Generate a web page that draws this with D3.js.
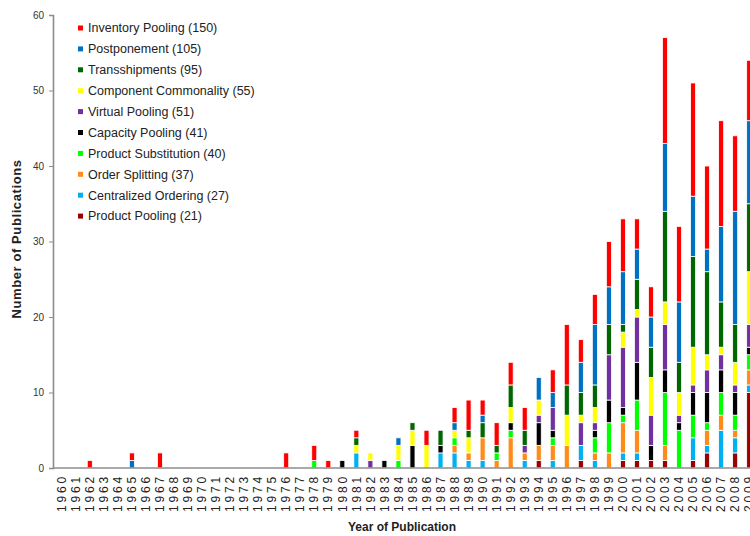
<!DOCTYPE html>
<html lang="en">
<head>
  <meta charset="UTF-8" />
  <script src="https://d3js.org/d3.v7.min.js"></script>
  <title>Publications per year</title>
  <style>
    body { margin: 0; background: #fff; }
    text { font-family: "Liberation Sans", Arial, sans-serif; }
  </style>
</head>
<body>
  <svg width="750" height="536"></svg>

  <script>
    const width = 750;
    const height = 536;

    // years on the x axis
    const years = d3.range(1960, 2010);

    // legend order (top of stack first)
    const categories = [
      "Inventory Pooling", "Postponement", "Transshipments", "Component Commonality",
      "Virtual Pooling", "Capacity Pooling", "Product Substitution", "Order Splitting",
      "Centralized Ordering", "Product Pooling"
    ];
    const totals = [150, 105, 95, 55, 51, 41, 40, 37, 27, 21];
    const colors = ["#ff0000", "#0070c0", "#006600", "#ffff00", "#7030a0",
                    "#000000", "#00ff00", "#ff8c1a", "#00b0f0", "#990000"];

    // values per year 1960..2009, one array per category
    const inventoryPooling = [0,0,1,0,0,1,0,2,0,0, 0,0,0,0,0,0,2,0,2,1, 0,1,0,0,0,0,2,0,2,4, 2,3,3,3,0,3,8,3,4,6, 7,4,4,14,10,15,11,14,10,8];
    const postponement =     [0,0,0,0,0,1,0,0,0,0, 0,0,0,0,0,0,0,0,0,0, 0,0,0,0,1,0,0,0,1,0, 1,0,0,0,3,2,0,4,8,5, 7,4,4,9,8,8,3,10,15,11];
    const transshipments =   [0,0,0,0,0,0,0,0,0,0, 0,0,0,0,0,0,0,0,0,0, 0,1,0,0,0,1,0,2,0,1, 2,1,3,2,0,0,4,3,3,4, 1,4,4,12,4,12,11,6,5,9];
    const componentComm =    [0,0,0,0,0,0,0,0,0,0, 0,0,0,0,0,0,0,0,0,0, 0,1,1,0,2,2,3,0,1,2, 0,0,2,0,2,0,4,1,2,0, 2,1,5,3,3,5,2,1,3,7];
    const virtualPooling =   [0,0,0,0,0,0,0,0,0,0, 0,0,0,0,0,0,0,0,0,0, 0,0,1,0,0,0,0,0,0,0, 0,0,0,1,1,3,0,3,1,6, 8,6,4,6,1,1,3,2,1,3];
    const capacityPooling =  [0,0,0,0,0,0,0,0,0,0, 0,0,0,0,0,0,0,0,0,0, 1,0,0,1,0,3,0,1,0,0, 0,0,1,0,3,1,0,0,1,3, 1,5,2,3,1,3,4,3,3,1];
    const productSubst =     [0,0,0,0,0,0,0,0,0,0, 0,0,0,0,0,0,0,0,1,0, 0,0,0,0,1,0,0,0,1,0, 0,1,1,0,0,1,0,0,2,4, 1,4,0,7,5,3,1,3,2,2];
    const orderSplitting =   [0,0,0,0,0,0,0,0,0,0, 0,0,0,0,0,0,0,0,0,0, 0,0,0,0,0,0,0,0,1,1, 3,1,4,1,2,2,3,0,1,2, 4,3,0,2,0,0,2,2,1,2];
    const centralOrdering =  [0,0,0,0,0,0,0,0,0,0, 0,0,0,0,0,0,0,0,0,0, 0,2,0,0,0,0,0,2,2,1, 1,0,0,1,0,1,0,2,1,0, 1,1,0,0,0,3,1,5,2,1];
    const productPooling =   [0,0,0,0,0,0,0,0,0,0, 0,0,0,0,0,0,0,0,0,0, 0,0,0,0,0,0,0,0,0,0, 0,0,0,0,1,0,0,1,0,0, 1,1,1,1,0,1,2,0,2,10];

    const series = [inventoryPooling, postponement, transshipments, componentComm,
                    virtualPooling, capacityPooling, productSubst, orderSplitting,
                    centralOrdering, productPooling];

    const yTicks = [0, 10, 20, 30, 40, 50, 60];

    // table for d3.stack
    const table = years.map((yr, i) => {
      const row = { year: yr };
      categories.forEach((c, j) => { row[c] = series[j][i]; });
      return row;
    });

    const svg = d3.select("svg");

    const x = d3.scaleBand()
      .domain(years)
      .range([54.7, 54.7 + 14.03 * years.length])
      .paddingInner(0.64)
      .paddingOuter(0.32);

    const y = d3.scaleLinear()
      .domain([0, 60])
      .range([468, 15]);

    const color = d3.scaleOrdinal().domain(categories).range(colors);

    // bottom of stack is the last legend entry
    const stack = d3.stack().keys(categories.slice().reverse());
    const layers = stack(table);

    svg.append("g")
      .selectAll("g")
      .data(layers)
      .enter()
      .append("g")
      .attr("fill", d => color(d.key))
      .selectAll("rect")
      .data(d => d.filter(s => s[1] > s[0]))
      .enter()
      .append("rect")
      .attr("x", d => x(d.data.year))
      .attr("width", x.bandwidth())
      .attr("y", d => y(d[1]))
      .attr("height", d => y(d[0]) - y(d[1]))
      .attr("stroke", "#fff")
      .attr("stroke-width", 0.8);

    // y axis
    const yAxis = svg.append("g")
      .attr("transform", "translate(53,0)")
      .call(d3.axisLeft(y).tickValues(yTicks).tickSize(4).tickPadding(5));
    yAxis.select(".domain").attr("stroke", "#8c8c8c").attr("stroke-width", 1.6);
    yAxis.selectAll(".tick line").attr("stroke", "#8c8c8c");
    yAxis.selectAll(".tick text")
      .attr("font-size", 10)
      .attr("fill", "#333");

    // x axis
    const xAxis = svg.append("g")
      .attr("transform", "translate(0,468)")
      .call(d3.axisBottom(x).tickSize(0).tickSizeOuter(0));
    xAxis.select(".domain").attr("stroke", "#8c8c8c").attr("stroke-width", 1.6)
      .attr("d", "M53,0H750");
    xAxis.selectAll(".tick text")
      .attr("font-size", 12)
      .attr("letter-spacing", 2.8)
      .attr("fill", "#222")
      .attr("text-anchor", "end")
      .attr("transform", "translate(0,6) rotate(-90)")
      .attr("x", 0)
      .attr("y", 0)
      .attr("dy", "0.35em");

    // axis titles
    svg.append("text")
      .attr("x", 402)
      .attr("y", 531)
      .attr("text-anchor", "middle")
      .attr("font-size", 12)
      .attr("font-weight", "bold")
      .attr("fill", "#222")
      .text("Year of Publication");

    svg.append("text")
      .attr("transform", "translate(21,239) rotate(-90)")
      .attr("text-anchor", "middle")
      .attr("font-size", 13)
      .attr("letter-spacing", 0.6)
      .attr("font-weight", "bold")
      .attr("fill", "#222")
      .text("Number of Publications");

    // legend
    const legend = svg.append("g")
      .selectAll("g")
      .data(categories)
      .enter()
      .append("g")
      .attr("transform", (d, i) => `translate(78, ${28 + i * 20.9})`);

    legend.append("rect")
      .attr("x", 0)
      .attr("y", -2.5)
      .attr("width", 5)
      .attr("height", 5)
      .attr("fill", d => color(d));

    legend.append("text")
      .attr("x", 10)
      .attr("dy", "0.35em")
      .attr("font-size", 12.5)
      .attr("fill", "#222")
      .text((d, i) => `${d} (${totals[i]})`);
  </script>
</body>
</html>
